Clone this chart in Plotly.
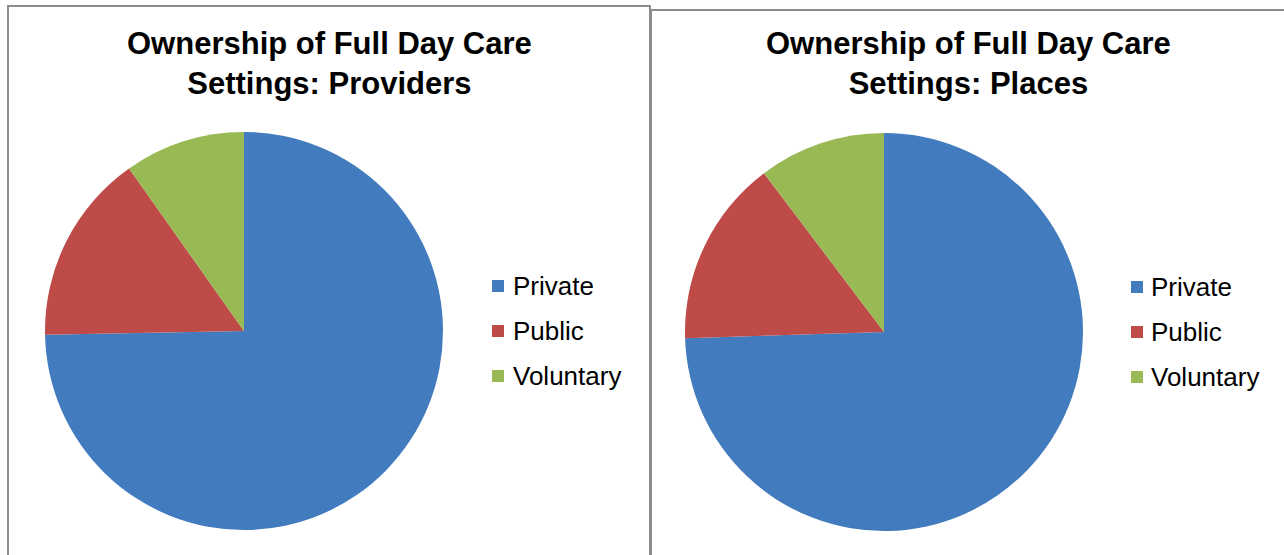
import plotly.graph_objects as go

# Ownership shares (%) of full day care settings
categories = ["Private", "Public", "Voluntary"]
providers_share = [74.7, 15.5, 9.8]
places_share = [74.5, 15.2, 10.3]
slice_colors = ["#427BBE", "#BE4B48", "#98B954"]

titles = [
    "<b>Ownership of Full Day Care<br>Settings: Providers</b>",
    "<b>Ownership of Full Day Care<br>Settings: Places</b>",
]

W, H = 1284, 555


def px_x(x):
    return x / W


def px_y(y):
    # pixel offset from the top -> paper fraction
    return 1 - y / H


fig = go.Figure()

panels = [
    dict(values=providers_share, cx=244, cy=331, r=199, title_x=329,
         leg_sq=498, leg_tx=511, leg_y=[286, 331, 376]),
    dict(values=places_share, cx=884, cy=332, r=199, title_x=969,
         leg_sq=1137, leg_tx=1149, leg_y=[287, 332, 377]),
]

for i, p in enumerate(panels):
    fig.add_trace(go.Pie(
        labels=categories,
        values=p["values"],
        sort=False,
        direction="clockwise",
        rotation=0,
        marker=dict(colors=slice_colors, line=dict(width=0)),
        textinfo="none",
        hole=0,
        showlegend=False,
        domain=dict(
            x=[px_x(p["cx"] - p["r"]), px_x(p["cx"] + p["r"])],
            y=[px_y(p["cy"] + p["r"]), px_y(p["cy"] - p["r"])],
        ),
    ))

    fig.add_annotation(
        text=titles[i], xref="paper", yref="paper",
        x=px_x(p["title_x"]), y=px_y(63.5),
        xanchor="center", yanchor="middle", showarrow=False,
        font=dict(family="Liberation Sans, Arial, sans-serif", size=31,
                  color="#000000"),
        align="center",
    )

    # legend: colour square + label per category
    half = 6
    for cat, col, ly in zip(categories, slice_colors, p["leg_y"]):
        fig.add_shape(
            type="rect", xref="paper", yref="paper",
            x0=px_x(p["leg_sq"] - half), x1=px_x(p["leg_sq"] + half),
            y0=px_y(ly + half), y1=px_y(ly - half),
            fillcolor=col, line=dict(width=0),
        )
        fig.add_annotation(
            text=cat, xref="paper", yref="paper",
            x=px_x(p["leg_tx"]), y=px_y(ly),
            xanchor="left", yanchor="middle", showarrow=False,
            font=dict(family="Liberation Sans, Arial, sans-serif", size=26,
                      color="#000000"),
        )

# chart frames
frame_col = "#8C8C8C"
fig.add_shape(type="rect", xref="paper", yref="paper",
              x0=px_x(8), x1=px_x(650), y0=-0.05, y1=px_y(6),
              line=dict(color=frame_col, width=2), fillcolor="rgba(0,0,0,0)")
fig.add_shape(type="rect", xref="paper", yref="paper",
              x0=px_x(651), x1=1.05, y0=-0.05, y1=px_y(10),
              line=dict(color=frame_col, width=2), fillcolor="rgba(0,0,0,0)")

fig.update_layout(
    width=W, height=H,
    margin=dict(l=0, r=0, t=0, b=0),
    paper_bgcolor="#FFFFFF",
    plot_bgcolor="#FFFFFF",
)

fig.write_html("out.html")
